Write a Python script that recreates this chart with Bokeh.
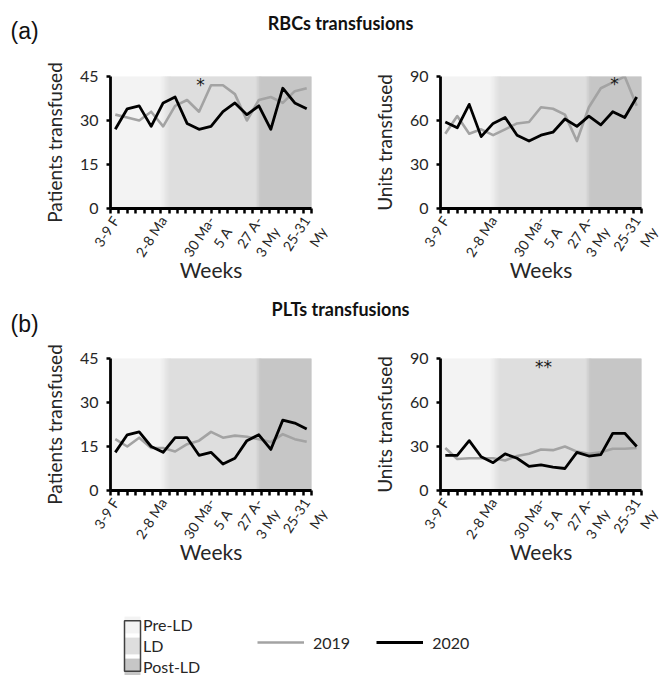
import numpy as np
from bokeh.plotting import figure
from bokeh.layouts import column, row
from bokeh.models import FixedTicker, Label, Legend, LegendItem, ColumnDataSource
from bokeh.core.properties import value
from bokeh.embed import file_html
from bokeh.resources import INLINE

# ---------------- data ----------------
WEEKS = list(range(17))  # 3-9 Feb ... 25-31 May
TICK_POS = [0, 4, 8, 12, 16]
TICK_LABELS = ["3-9 F", "2-8 Ma", "30 Ma-\n5 A", "27 A-\n3 My", "25-31\nMy"]

RBC_PAT_2019 = [32, 31, 30, 33, 28, 35, 37, 33, 42, 42, 39, 30, 37, 38, 36, 40, 41]
RBC_PAT_2020 = [27, 34, 35, 28, 36, 38, 29, 27, 28, 33, 36, 32, 35, 27, 41, 36, 34]
RBC_UNI_2019 = [51, 63, 51, 54, 50, 54, 58, 59, 69, 68, 64, 46, 69, 82, 86, 90, 70]
RBC_UNI_2020 = [59, 55, 71, 49, 58, 62, 50, 46, 50, 52, 61, 56, 63, 57, 66, 62, 76]
PLT_PAT_2019 = [17.5, 15, 18, 14.5, 14.5, 13.3, 15.8, 17, 20, 18, 18.7, 18.3, 17.5, 16.5, 19.2, 17.5, 16.6]
PLT_PAT_2020 = [13, 19, 20, 15, 13, 18, 18, 12, 13, 9, 11, 17, 19, 14, 24, 23, 21]
PLT_UNI_2019 = [29, 21.5, 22, 22, 22, 20.5, 23.5, 25, 28, 27.5, 30, 26.5, 25, 26, 28.5, 28.5, 29]
PLT_UNI_2020 = [24, 24, 34, 23, 19, 25, 22, 16.5, 17.5, 16, 15, 26, 23.5, 24.5, 39, 39, 30]

# lockdown phase transitions (week index): pre->LD fade, LD->post fade
PHASE_EDGES = [3.8, 4.6, 11.75, 12.15]
PHASE_NAMES = ["Pre-LD", "LD", "Post-LD"]

# significance marks (week index, value)
SIG_A_PAT = ([7.13], [42.0], ["*"])
SIG_A_UNI = ([14.15], [85.0], ["*"])
SIG_B_UNI = ([8.2], [84.5], ["**"])

# ---------------- style ----------------
FONT = "Lato"
PRE, LDC, POST = "#f3f3f3", "#dedede", "#c6c6c6"
GREY = "#a3a3a3"
TXT = "#262626"
X_RANGE = (-0.4, 16.4)
FRAME_W, FRAME_H = 201, 132
NAN = float("nan")


def hexmix(c0, c1, t):
    a = [int(c0[i:i + 2], 16) for i in (1, 3, 5)]
    b = [int(c1[i:i + 2], 16) for i in (1, 3, 5)]
    return "#" + "".join("%02x" % round(x + (y - x) * t) for x, y in zip(a, b))


def band_source():
    lefts, rights, cols = [], [], []
    x0, x1 = X_RANGE
    e = PHASE_EDGES
    lefts += [x0]; rights += [e[0]]; cols += [PRE]
    n = 8
    for i in range(n):
        lefts.append(e[0] + (e[1] - e[0]) * i / n)
        rights.append(e[0] + (e[1] - e[0]) * (i + 1) / n)
        cols.append(hexmix(PRE, LDC, (i + 0.5) / n))
    lefts += [e[1]]; rights += [e[2]]; cols += [LDC]
    n = 4
    for i in range(n):
        lefts.append(e[2] + (e[3] - e[2]) * i / n)
        rights.append(e[2] + (e[3] - e[2]) * (i + 1) / n)
        cols.append(hexmix(LDC, POST, (i + 0.5) / n))
    lefts += [e[3]]; rights += [x1]; cols += [POST]
    return dict(left=lefts, right=rights, color=cols)


def tick_text(lbl):
    # two-line labels: keep the first line on the tick, second line hanging below
    return "\n" + lbl if "\n" in lbl else lbl


def panel(y19, y20, ymax, yticks, ylabel, width, left, top, height, sig):
    p = figure(width=width, height=height, x_range=X_RANGE, y_range=(0, ymax),
               toolbar_location=None, output_backend="svg",
               min_border_left=left, min_border_right=width - left - FRAME_W,
               min_border_top=top, min_border_bottom=height - top - FRAME_H,
               outline_line_color=None)
    p.grid.visible = False
    bs = band_source()
    src = ColumnDataSource(dict(left=bs["left"], right=bs["right"], color=bs["color"],
                                bottom=[0] * len(bs["left"]), top=[ymax] * len(bs["left"])))
    p.quad(left="left", right="right", bottom="bottom", top="top", source=src,
           fill_color="color", line_color="color", line_width=1)
    p.line(WEEKS, y19, line_color=GREY, line_width=2.6, line_join="round")
    p.line(WEEKS, y20, line_color="black", line_width=2.8, line_join="round")
    if sig is not None:
        p.text(x=sig[0], y=sig[1], text=sig[2], text_font=value("DejaVu Sans"),
               text_font_size="17px", text_align="center", text_baseline="middle",
               text_color="#1a1a1a")

    xa = p.xaxis[0]
    xa.ticker = FixedTicker(ticks=TICK_POS,
                            minor_ticks=list(np.linspace(X_RANGE[0], X_RANGE[1], 25)))
    xa.major_label_overrides = {k: tick_text(v) for k, v in zip(TICK_POS, TICK_LABELS)}
    xa.major_label_orientation = 1.0
    xa.major_tick_out = 0
    xa.major_tick_in = 0
    xa.minor_tick_out = 5
    xa.minor_tick_in = 0
    xa.minor_tick_line_width = 2.5
    xa.minor_tick_line_color = "black"
    xa.axis_line_width = 2.8
    xa.axis_line_color = "black"
    xa.major_label_text_font = FONT
    xa.major_label_text_font_size = "14px"
    xa.major_label_text_color = TXT
    xa.major_label_standoff = 4
    xa.axis_label = "Weeks"
    xa.axis_label_text_font = FONT
    xa.axis_label_text_font_size = "21px"
    xa.axis_label_text_font_style = "normal"
    xa.axis_label_text_color = TXT
    xa.axis_label_standoff = -32

    ya = p.yaxis[0]
    ya.ticker = FixedTicker(ticks=yticks, minor_ticks=[])
    ya.major_tick_out = 4
    ya.major_tick_in = 0
    ya.major_tick_line_width = 2.5
    ya.minor_tick_out = 0
    ya.minor_tick_in = 0
    ya.axis_line_width = 2.8
    ya.axis_line_color = "black"
    ya.major_label_text_font = FONT
    ya.major_label_text_font_size = "16px"
    ya.major_label_text_color = TXT
    ya.major_label_standoff = 8
    ya.axis_label = ylabel
    ya.axis_label_text_font = FONT
    ya.axis_label_text_font_size = "19px"
    ya.axis_label_text_font_style = "normal"
    ya.axis_label_text_color = TXT
    ya.axis_label_standoff = 11
    return p


def header(letter, title, height, title_y, letter_y):
    h = figure(width=670, height=height, x_range=(0, 1), y_range=(0, 1),
               toolbar_location=None, output_backend="svg", min_border=0,
               outline_line_color=None, x_axis_location=None, y_axis_location=None)
    h.grid.visible = False
    h.add_layout(Label(x=10, y=letter_y, x_units="screen", y_units="screen", text=letter,
                       text_font="Liberation Sans", text_font_size="23px",
                       text_baseline="middle", text_color="#111111"))
    h.add_layout(Label(x=340, y=title_y, x_units="screen", y_units="screen", text=title,
                       text_font=FONT, text_font_size="18px", text_font_style="bold",
                       text_align="center", text_baseline="middle", text_color="#111111"))
    return h


ROW_H = 230
ha = header("(a)", "RBCs transfusions", 60, 60 - 22, 60 - 30)
fa1 = panel(RBC_PAT_2019, RBC_PAT_2020, 45, [0, 15, 30, 45], "Patients transfused",
            330, 110, 16, ROW_H, SIG_A_PAT)
fa2 = panel(RBC_UNI_2019, RBC_UNI_2020, 90, [0, 30, 60, 90], "Units transfused",
            340, 110, 16, ROW_H, SIG_A_UNI)
hb = header("(b)", "PLTs transfusions", 50, 50 - 18, 50 - 33)
fb1 = panel(PLT_PAT_2019, PLT_PAT_2020, 45, [0, 15, 30, 45], "Patients transfused",
            330, 110, 18, ROW_H, None)
fb2 = panel(PLT_UNI_2019, PLT_UNI_2020, 90, [0, 30, 60, 90], "Units transfused",
            340, 110, 18, ROW_H, SIG_B_UNI)

# ---------------- legend figure ----------------
LEG_H = 105
lf = figure(width=670, height=LEG_H, x_range=(0, 1), y_range=(0, 1),
            toolbar_location=None, output_backend="svg", min_border=0,
            outline_line_color=None, x_axis_location=None, y_axis_location=None)
lf.grid.visible = False
band_rs = [lf.quad(left=[NAN], right=[NAN], bottom=[NAN], top=[NAN], fill_color=c, line_color=None)
           for c in (PRE, LDC, POST)]
box_r = lf.quad(left=[NAN], right=[NAN], bottom=[NAN], top=[NAN], fill_alpha=0,
                line_color="#404040", line_width=1.5)
r19 = lf.line(x=[NAN, NAN], y=[NAN, NAN], line_color=GREY, line_width=2.6)
r20 = lf.line(x=[NAN, NAN], y=[NAN, NAN], line_color="black", line_width=2.8)

common = dict(padding=0, margin=0, border_line_color=None, background_fill_alpha=0,
              label_text_font=FONT, label_text_font_size="16px", label_text_color=TXT)
leg_bands = Legend(items=[LegendItem(label=n, renderers=[r]) for n, r in zip(PHASE_NAMES, band_rs)],
                   location=(122, -2), orientation="vertical", glyph_width=20, glyph_height=21,
                   label_height=21, spacing=0, label_standoff=1, **common)
leg_box = Legend(items=[LegendItem(label=" ", renderers=[box_r])],
                 location=(122, -2), glyph_width=20, glyph_height=63, label_height=63,
                 spacing=0, label_standoff=0, **common)
leg_lines = Legend(items=[LegendItem(label="2019", renderers=[r19]),
                          LegendItem(label="2020", renderers=[r20])],
                   location=(257, 23), orientation="horizontal", glyph_width=47, glyph_height=20,
                   spacing=26, label_standoff=9, **common)
lf.add_layout(leg_bands)
lf.add_layout(leg_box)
lf.add_layout(leg_lines)

layout = column(ha, row(fa1, fa2), hb, row(fb1, fb2), lf)

open("out.html", "w").write(file_html(layout, INLINE))
